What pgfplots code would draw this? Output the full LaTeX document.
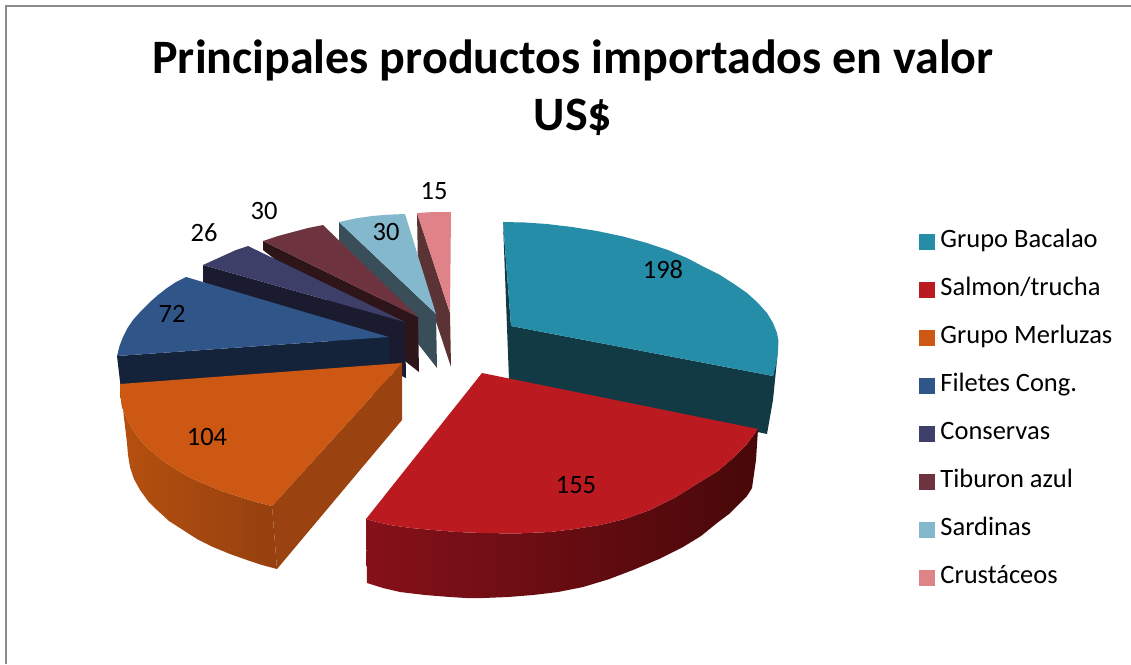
\documentclass[border=0pt]{standalone}
\usepackage{pgfplots}
\pgfplotsset{compat=1.18}
\usepackage{fontspec}
\setmainfont{Carlito}
\definecolor{tTeal}{HTML}{268DA9}\definecolor{wTeal}{HTML}{123A45}
\definecolor{tRed}{HTML}{BC1A21}
\definecolor{wRedA}{HTML}{86111A}\definecolor{wRedB}{HTML}{5F0B10}\definecolor{wRedC}{HTML}{480809}
\definecolor{tOrange}{HTML}{CD5813}\definecolor{wOrange}{HTML}{9A4210}
\definecolor{wOrangeA}{HTML}{B5500F}\definecolor{wOrangeB}{HTML}{95400F}
\definecolor{tBlue}{HTML}{305588}\definecolor{wBlue}{HTML}{14233A}
\definecolor{tPurple}{HTML}{3E3F68}\definecolor{wPurple}{HTML}{1A1B2E}
\definecolor{tMaroon}{HTML}{6D343F}\definecolor{wMaroon}{HTML}{2E151A}
\definecolor{tSky}{HTML}{83B8CD}\definecolor{wSky}{HTML}{3A4E5A}
\definecolor{tPink}{HTML}{E08388}\definecolor{wPink}{HTML}{5C3335}
\definecolor{frameGray}{HTML}{8C8C8C}
\pgfplotsset{
  face/.style={forget plot,no markers,draw=none,fill=#1},
  lgd/.style={legend image code/.code={\fill[#1] (0pt,-7.5pt) rectangle (15pt,7.5pt);\path (21pt,0pt);}},
}
\begin{document}
\begin{tikzpicture}
\path[use as bounding box] (0,0) rectangle (1131pt,664pt);
\begin{axis}[
  at={(0,0)},anchor=south west,
  width=1131pt,height=664pt,scale only axis,
  xmin=0,xmax=1131,ymin=0,ymax=664,y dir=reverse,
  hide axis,clip=false,
  legend style={at={(axis cs:919,231)},anchor=north west,draw=none,fill=none,
    font=\fontsize{26.5}{26.5}\selectfont,inner sep=0pt,outer sep=0pt,row sep=27pt,
    nodes={text height=16pt,text depth=5pt,inner sep=0pt,outer sep=0pt}},
  legend cell align=left,
]
% frame
\addplot[forget plot,no markers,draw=frameGray,line width=1.6pt] coordinates {(6,664) (6,6) (1131,6)};
% back slices: Crustaceos
\addplot[face=wPink] coordinates {(417,213) (450,313) (451,367) (418,267)} -- cycle;
\addplot[face=tPink] coordinates {(417,213) (434,212) (451,212) (450,313)} -- cycle;
% Sardinas
\addplot[face=wSky] coordinates {(339,222) (436,314) (437,368) (339,243)} -- cycle;
\addplot[face=tSky] coordinates {(339,222) (355,218.5) (372,216) (388,214.7) (405,214) (436,314)} -- cycle;
% Tiburon
\addplot[face=wMaroon] coordinates {(263,241) (418,317) (419,372) (263,250)} -- cycle;
\addplot[face=tMaroon] coordinates {(263,241) (278,236) (293,232) (308,228) (323,225) (418,317)} -- cycle;
% Conservas
\addplot[face=wPurple] coordinates {(203,265) (405,322) (406,378) (203,282)} -- cycle;
\addplot[face=tPurple] coordinates {(203,265) (214,260) (225,255) (236,250) (248,246) (405,322)} -- cycle;
% Filetes
\addplot[face=wBlue] coordinates {(117,356) (389,337) (390,395) (121,390)} -- cycle;
\addplot[face=tBlue] coordinates {(186,277) (176,282) (167,288) (158,295) (150,302) (141,311) (133,320) (127.5,328) (123,337) (119.5,346) (117,356) (389,337)} -- cycle;
% Merluzas
\addplot[forget plot,no markers,draw=none,left color=wOrangeA,right color=wOrangeB] coordinates
  {(120,384) (120.5,396) (122,407) (127,419) (133,430) (141,441) (150,450) (163,461) (177,470) (191,478) (207,485) (223,491.5) (240,497) (256,502) (272,506) (277,569) (262,565) (247,560) (230,554) (213,547) (197,539) (183,530) (169,521) (157,510) (148,501) (140,490) (134,479) (130,467) (128,455) (127,443)} -- cycle;
\addplot[face=wOrange] coordinates {(402,363) (272,506) (277,569) (402,420)} -- cycle;
\addplot[face=tOrange] coordinates {(402,363) (120,384) (120.5,396) (122,407) (127,419) (133,430) (141,441) (150,450) (163,461) (177,470) (191,478) (207,485) (223,491.5) (240,497) (256,502) (272,506)} -- cycle;
% Bacalao
\addplot[face=wTeal] coordinates {(503,222) (511,326) (773,376) (778,350) (773,400) (767,434) (509,380)} -- cycle;
\addplot[face=tTeal] coordinates {(503,222) (525,222.5) (547,224) (572,227) (597,231) (623,236.5) (647,243) (668,250) (687,258) (704,267) (720,275) (734,284) (747,293) (758,303) (767,313) (773,323) (777,333) (778.5,341) (778,350) (776.5,363) (773,376) (511,326)} -- cycle;
% Salmon
\addplot[forget plot,no markers,draw=none,left color=wRedA,middle color=wRedB,right color=wRedC] coordinates
  {(366,519) (377,522) (390,525) (411,528) (433,530) (457,532) (483,533) (516,533.5) (550,532) (575,529) (600,525) (625,519) (650,510) (676,497) (700,482) (718,471) (733,458) (747,444) (758,429) (756,460) (752,488) (747,496) (740,503) (729,514) (717,523) (701,536) (683,547) (659,559) (633,570) (608,579.5) (583,587) (558,592) (533,595) (508,597) (483,598) (466,598) (450,597) (425,595) (400,592) (383,588) (367,583)} -- cycle;
\addplot[face=tRed] coordinates {(482,373) (758,429) (747,444) (733,458) (718,471) (700,482) (676,497) (650,510) (625,519) (600,525) (575,529) (550,532) (516,533.5) (483,533) (457,532) (433,530) (411,528) (390,525) (377,522) (366,519)} -- cycle;
% legend
\addlegendimage{lgd=tTeal}\addlegendentry{Grupo Bacalao}
\addlegendimage{lgd=tRed}\addlegendentry{Salmon/trucha}
\addlegendimage{lgd=tOrange}\addlegendentry{Grupo Merluzas}
\addlegendimage{lgd=tBlue}\addlegendentry{Filetes Cong.}
\addlegendimage{lgd=tPurple}\addlegendentry{Conservas}
\addlegendimage{lgd=tMaroon}\addlegendentry{Tiburon azul}
\addlegendimage{lgd=tSky}\addlegendentry{Sardinas}
\addlegendimage{lgd=tPink}\addlegendentry{Crustáceos}
% data labels
\begin{scope}[every node/.style={font=\fontsize{26.5}{26.5}\selectfont,text=black}]
\node at (axis cs:663,270) {198};
\node at (axis cs:576,485) {155};
\node at (axis cs:207,437) {104};
\node at (axis cs:172,314) {72};
\node at (axis cs:204,233) {26};
\node at (axis cs:264,211) {30};
\node at (axis cs:386,232) {30};
\node at (axis cs:434,191) {15};
\end{scope}
% title
\node[font=\fontsize{48}{57}\selectfont\bfseries,align=center,text=black] at (axis cs:573,88) {Principales productos importados en valor\\US\$};
\end{axis}
\end{tikzpicture}
\end{document}
